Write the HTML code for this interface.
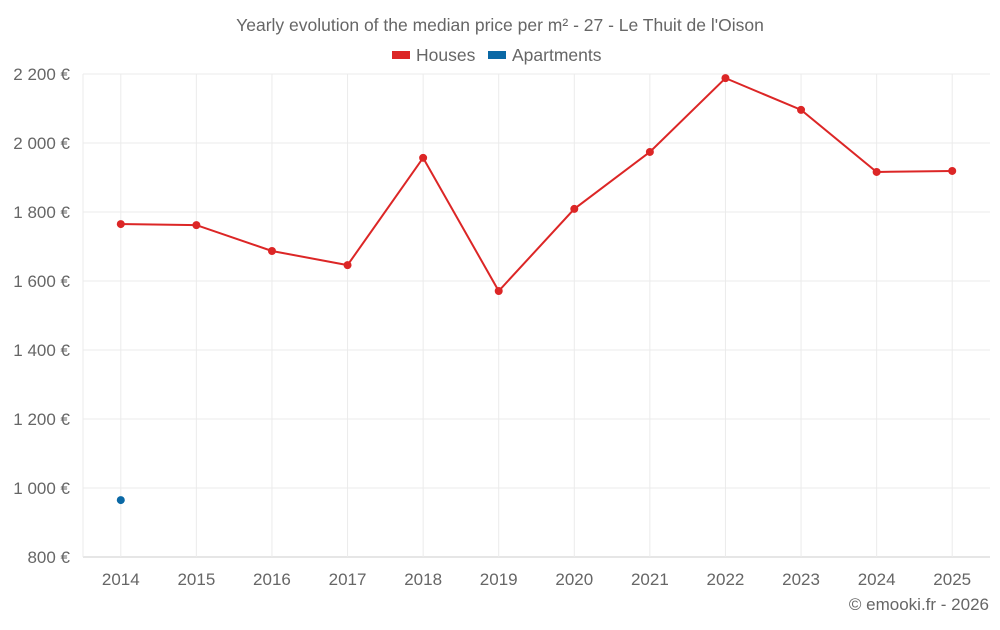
<!DOCTYPE html>
<html><head><meta charset="utf-8"><style>
body{margin:0;background:#fff;font-family:"Liberation Sans",sans-serif;}
svg text{font-family:"Liberation Sans",sans-serif;fill:#666;}
</style></head><body>
<svg id="c" width="1000" height="625">
<text x="500" y="31" text-anchor="middle" font-size="17.5">Yearly evolution of the median price per m² - 27 - Le Thuit de l'Oison</text>
<g>
<rect x="392" y="51" width="18" height="8" fill="#dc2626"/>
<text x="416" y="61" font-size="17.5">Houses</text>
<rect x="488" y="51" width="18" height="8" fill="#0a68a5"/>
<text x="512" y="61" font-size="17.5">Apartments</text>
</g>
<g id="grid"></g><g id="marks"></g>
<text x="989" y="610" text-anchor="end" font-size="17">© emooki.fr - 2026</text>
</svg>
<script>
const years=["2014","2015","2016","2017","2018","2019","2020","2021","2022","2023","2024","2025"];
const houses=[1765,1762,1687,1646,1957,1571,1809,1974,2188,2096,1916,1919];
const apartments=[965,null,null,null,null,null,null,null,null,null,null,null];
const yTicks=[800,1000,1200,1400,1600,1800,2000,2200];
const NS="http://www.w3.org/2000/svg";
const L=83,R=990,T=74,B=557,ymin=800,ymax=2200;
const bw=(R-L)/years.length;
const xs=i=>L+bw*(i+0.5);
const ys=v=>B-(v-ymin)/(ymax-ymin)*(B-T);
function mk(tag,attrs,parent){const e=document.createElementNS(NS,tag);for(const k in attrs)e.setAttribute(k,attrs[k]);parent.appendChild(e);return e;}
const g=document.getElementById('grid'),m=document.getElementById('marks');
yTicks.forEach(v=>{
 const l=mk('line',{x1:L,x2:R,y1:ys(v),y2:ys(v),stroke:v===ymin?'#ccc':'#ebebeb'},g);
 
 
 const t=mk('text',{x:70,y:ys(v)+6,'text-anchor':'end','font-size':17},g);
 t.textContent=v.toLocaleString('fr-FR').replace(/\s/g,' ')+' €';
 
 
});
const l0=mk('line',{x1:L,x2:L,y1:T,y2:B,stroke:'#ebebeb'},g);


years.forEach((y,i)=>{
 const l=mk('line',{x1:xs(i),x2:xs(i),y1:T,y2:B,stroke:'#ebebeb'},g);
 
 
 const t=mk('text',{x:xs(i),y:585,'text-anchor':'middle','font-size':17},g);
 t.textContent=y;
 
 
});
function series(vals,color,name){
 let d='';vals.forEach((v,i)=>{if(v!=null)d+=(d?'L':'M')+xs(i)+','+ys(v);});
 const p=mk('path',{d:d,fill:'none',stroke:color,'stroke-width':2},m);
 
 
 vals.forEach((v,i)=>{if(v==null)return;
  const c=mk('circle',{cx:xs(i),cy:ys(v),r:4,fill:color},m);
  
  
 });
}
series(houses,'#dc2626','houses');
series(apartments,'#0a68a5','apartments');
</script>
</body></html>
